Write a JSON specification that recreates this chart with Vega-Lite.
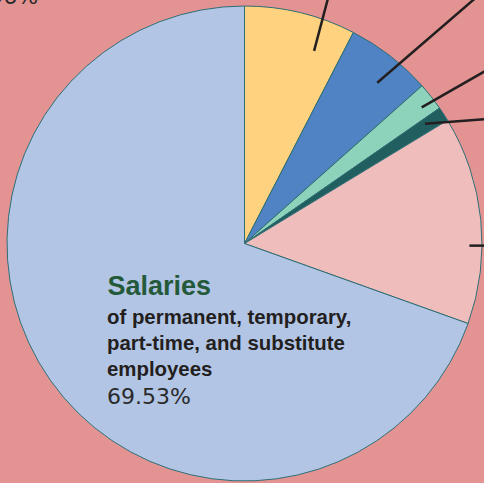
{
  "$schema": "https://vega.github.io/schema/vega-lite/v6.json",
  "width": 475,
  "height": 475,
  "autosize": {"type": "none"},
  "padding": {"left": 7, "top": 6, "right": 2, "bottom": 2},
  "background": "#E49393",
  "view": {"stroke": null},
  "datasets": {
    "slices": [
      {"category": "Yellow", "rank": 1, "share": 0.0758},
      {"category": "Blue", "rank": 2, "share": 0.0586},
      {"category": "Light teal", "rank": 3, "share": 0.0190},
      {"category": "Dark teal", "rank": 4, "share": 0.0098},
      {"category": "Pink", "rank": 5, "share": 0.1415},
      {"category": "Salaries", "rank": 6, "share": 0.6953, "description": "of permanent, temporary,\npart-time, and substitute\nemployees"}
    ],
    "leaders": [
      {"category": "Yellow", "x": 0.293, "y": 0.811, "x2": 0.352, "y2": 1.034},
      {"category": "Blue", "x": 0.559, "y": 0.677, "x2": 0.973, "y2": 1.034},
      {"category": "Light teal", "x": 0.746, "y": 0.573, "x2": 1.017, "y2": 0.728},
      {"category": "Dark teal", "x": 0.760, "y": 0.504, "x2": 1.017, "y2": 0.524},
      {"category": "Pink", "x": 0.947, "y": -0.009, "x2": 1.017, "y2": -0.009}
    ],
    "offscreen": [
      {"label": "2.96%"}
    ]
  },
  "layer": [
    {
      "data": {"name": "slices"},
      "mark": {"type": "arc", "stroke": "#2E6E73", "strokeWidth": 1},
      "encoding": {
        "theta": {"field": "share", "type": "quantitative", "stack": true},
        "order": {"field": "rank", "type": "quantitative"},
        "color": {
          "field": "category",
          "type": "nominal",
          "scale": {
            "domain": ["Yellow", "Blue", "Light teal", "Dark teal", "Pink", "Salaries"],
            "range": ["#FFD27F", "#4F83C4", "#8DD2BB", "#215E5F", "#EFBEBC", "#B3C5E5"]
          },
          "legend": null
        }
      }
    },
    {
      "data": {"name": "leaders"},
      "mark": {"type": "rule", "color": "#231F20", "strokeWidth": 2.5},
      "encoding": {
        "x": {"field": "x", "type": "quantitative", "scale": {"domain": [-1, 1]}, "axis": null},
        "y": {"field": "y", "type": "quantitative", "scale": {"domain": [-1, 1]}, "axis": null},
        "x2": {"field": "x2"},
        "y2": {"field": "y2"}
      }
    },
    {
      "data": {"name": "slices"},
      "transform": [{"filter": "datum.category === 'Salaries'"}],
      "mark": {"type": "text", "align": "left", "baseline": "alphabetic", "font": "Liberation Sans", "fontWeight": "bold", "fontSize": 27, "color": "#245A3A"},
      "encoding": {
        "x": {"datum": -0.577, "type": "quantitative"},
        "y": {"datum": -0.215, "type": "quantitative"},
        "text": {"field": "category"}
      }
    },
    {
      "data": {"name": "slices"},
      "transform": [{"filter": "datum.category === 'Salaries'"}],
      "mark": {"type": "text", "align": "left", "baseline": "alphabetic", "font": "Liberation Sans", "fontWeight": "bold", "fontSize": 20.4, "lineHeight": 26, "lineBreak": "\n", "color": "#231F20"},
      "encoding": {
        "x": {"datum": -0.579, "type": "quantitative"},
        "y": {"datum": -0.339, "type": "quantitative"},
        "text": {"field": "description"}
      }
    },
    {
      "data": {"name": "slices"},
      "transform": [{"filter": "datum.category === 'Salaries'"}],
      "mark": {"type": "text", "align": "left", "baseline": "alphabetic", "font": "DejaVu Sans", "fontSize": 22, "color": "#2A2A2A"},
      "encoding": {
        "x": {"datum": -0.579, "type": "quantitative"},
        "y": {"datum": -0.674, "type": "quantitative"},
        "text": {"field": "share", "type": "quantitative", "format": ".2%"}
      }
    },
    {
      "data": {"name": "offscreen"},
      "mark": {"type": "text", "align": "right", "baseline": "alphabetic", "font": "DejaVu Sans", "fontSize": 22, "color": "#2A2A2A"},
      "encoding": {
        "x": {"datum": -0.869, "type": "quantitative"},
        "y": {"datum": 1.008, "type": "quantitative"},
        "text": {"field": "label"}
      }
    }
  ]
}
